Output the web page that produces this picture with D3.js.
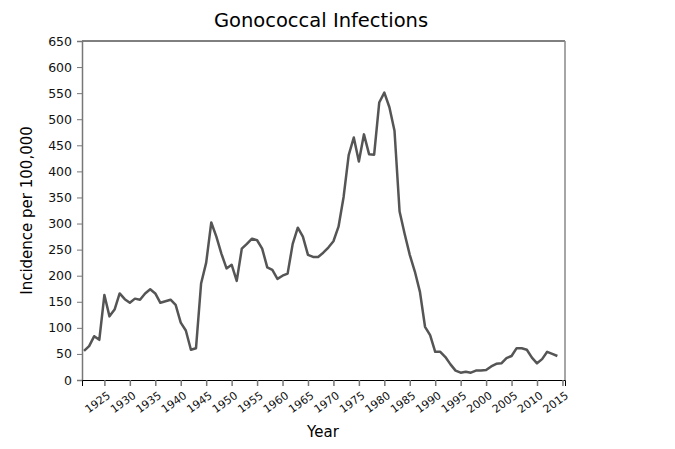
<!DOCTYPE html>
<html>
	<head>
		<meta charset="utf-8">
		<style type="text/css">
			body { margin: 0; background: white; font-family: "DejaVu Sans", sans-serif; }
		</style>
		<title>Gonococcal Infections</title>
	</head>
	<body>
		<script src="https://cdn.jsdelivr.net/npm/d3@7"></script>
		<script>

// incidence per 100,000, one value per year from 1921
var first_year = 1921;
var incidence = [
	56, 65, 84, 77, 163, 122, 135, 166, 155, 148,
	156, 154, 166, 174, 166, 148, 151, 154, 144, 110,
	95, 58, 61, 185, 225, 302, 275, 242, 214, 221,
	190, 252, 261, 271, 268, 252, 216, 211, 194, 200,
	204, 261, 292, 275, 240, 236, 236, 244, 254, 266,
	294, 351, 431, 465, 419, 471, 433, 432, 532, 551,
	523, 478, 323, 280, 240, 208, 169, 102, 86, 54,
	54, 44, 30, 18, 14, 16, 14, 18, 18, 19,
	26, 31, 32, 42, 46, 61, 61, 58, 43, 32,
	40, 54, 50, 46
];
var years = incidence.map((d, i) => first_year + i);
var x_ticks = d3.range(1925, 2016, 5);
var y_ticks = d3.range(0, 651, 50);

var margin = {top: 41, right: 110, bottom: 69, left: 82},
    width = 675 - margin.left - margin.right,
    height = 449 - margin.top - margin.bottom;

var x = d3.scaleLinear()
    .domain([1920.6, 2015.5])
    .range([0, width]);

var y = d3.scaleLinear()
    .domain([0, 650])
    .range([height, 0]);

var root = d3.select('body').append('svg')
    .attr('width', 675)
    .attr('height', 449);

var svg = root.append('g')
    .attr('transform', `translate(${margin.left},${margin.top})`);

// frame: top black, right gray
svg.append('line')
    .attr('x1', 0).attr('x2', width)
    .attr('y1', 0).attr('y2', 0)
    .attr('stroke', 'black');
svg.append('line')
    .attr('x1', width).attr('x2', width)
    .attr('y1', 0).attr('y2', height)
    .attr('stroke', '#888')
    .attr('stroke-width', 1.5);

let yAxis = svg.append('g')
    .call(d3.axisLeft(y).tickValues(y_ticks).tickSize(5).tickPadding(5));
yAxis.attr('font-size', 12.5).attr('font-family', null);
yAxis.select('.domain').attr('stroke', '#777').attr('stroke-width', 1.5);
yAxis.selectAll('.tick line').attr('stroke', '#777');
yAxis.selectAll('.tick text').attr('fill', '#111');

let xAxis = svg.append('g')
    .attr('transform', `translate(0,${height})`)
    .call(d3.axisBottom(x).tickValues(x_ticks).tickFormat(d3.format('d')).tickSize(6));
xAxis.attr('font-size', 11).attr('font-family', null);
xAxis.select('.domain').attr('stroke', 'black');
xAxis.selectAll('.tick line').attr('stroke', '#777').attr('stroke-width', 1.5);
xAxis.selectAll('.tick text')
    .attr('fill', '#111')
    .attr('text-anchor', 'end')
    .attr('y', 0)
    .attr('dy', '0.35em')
    .attr('transform', 'translate(4,14) rotate(-36)');

let line = d3.line()
    .x((d, i) => x(years[i]))
    .y(d => y(d));

svg.append('path').datum(incidence)
    .attr('d', line)
    .attr('fill', 'none')
    .attr('stroke', '#555')
    .attr('stroke-width', 2.5)
    .attr('stroke-linejoin', 'round');

root.append('text')
    .text('Gonococcal Infections')
    .attr('x', 321)
    .attr('y', 27)
    .attr('text-anchor', 'middle')
    .attr('font-size', 19.5);

root.append('text')
    .text('Year')
    .attr('x', 323)
    .attr('y', 437)
    .attr('text-anchor', 'middle')
    .attr('font-size', 15);

root.append('text')
    .text('Incidence per 100,000')
    .attr('transform', `translate(32,${margin.top + height / 2}) rotate(-90)`)
    .attr('text-anchor', 'middle')
    .attr('font-size', 15);

		</script>
	</body>
</html>
